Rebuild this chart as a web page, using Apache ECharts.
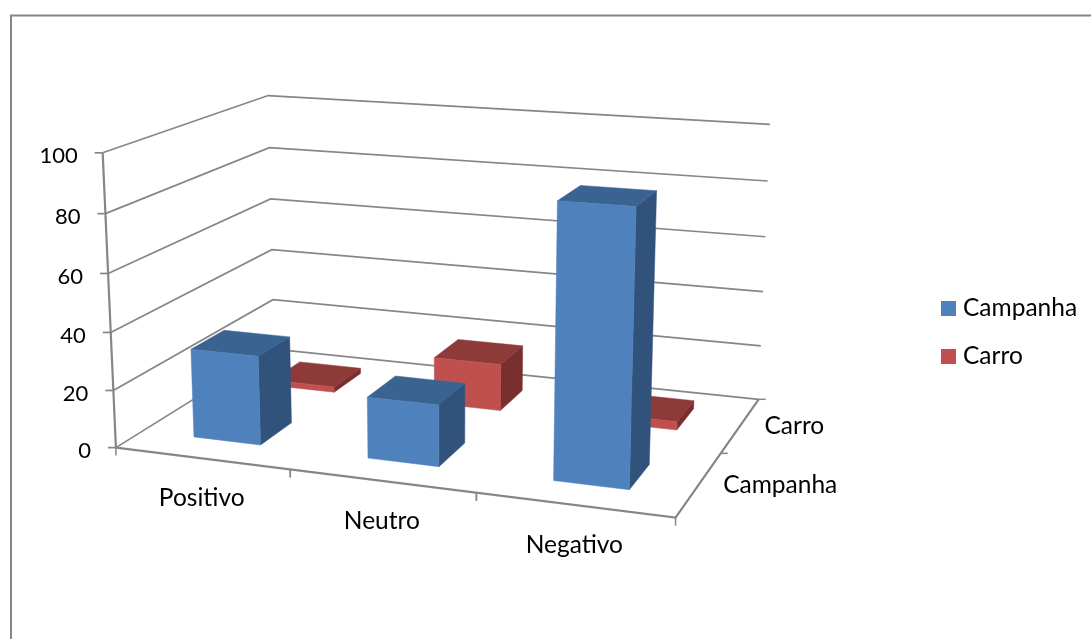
<!DOCTYPE html>
<html>
<head>
<meta charset="utf-8">
<style>html,body{margin:0;padding:0;background:#fff}#chart{width:1091px;height:639px}</style>
<script src="https://cdn.jsdelivr.net/npm/echarts@6/dist/echarts.min.js"></script>
</head>
<body>
<div id="chart"></div>
<script>
// Chart data
const categories = ['Positivo', 'Neutro', 'Negativo'];
const depthCategories = ['Campanha', 'Carro'];
const valueTicks = [0, 20, 40, 60, 80, 100];
const campanhaValues = [31, 21, 91];
const carroValues = [2, 17, 3];

// Styling
const FONT = '24.5px Lato, "Noto Sans", sans-serif';
const TICK_FONT = '22px Lato, "Noto Sans", sans-serif';
const LINE = '#868686';
const BAR_WIDTH = 0.13;  // share of the floor width
const BAR_DEPTH = 0.2;   // share of the floor depth
const FACES = {
  Campanha: { front: '#4F81BD', top: '#3B6391', side: '#30527B' },
  Carro: { front: '#C0504D', top: '#8E3A39', side: '#782F2E' }
};

// Camera calibration: [floor-x, floor-depth, height] against page position.
const VIEW_ANCHORS = [
  [0, 0, 0, 116.5, 447], [1, 0, 0, 675, 517], [0, 1, 0, 275, 350], [1, 1, 0, 758, 398],
  [0, 0, 1, 103, 153], [0, 1, 1, 268, 95], [1, 1, 1, 770, 125],
  [1 / 3, 0, 0, 290, 470], [2 / 3, 0, 0, 476, 495], [1, 0.5, 0, 722, 453],
  [0, 1, 0.2, 272, 300], [1, 1, 0.2, 761, 346], [0, 0, 0.2, 113, 389]
];

// Least-squares fit of the 3D-to-page projective matrix.
function fitProjection(anchors) {
  const n = 11;
  const A = Array.from({ length: n }, () => new Array(n + 1).fill(0));
  const addRow = (row, rhs) => {
    for (let r = 0; r < n; r++) {
      for (let c = 0; c < n; c++) A[r][c] += row[r] * row[c];
      A[r][n] += row[r] * rhs;
    }
  };
  anchors.forEach(([u, v, w, x, y]) => {
    addRow([u, v, w, 1, 0, 0, 0, 0, -x * u, -x * v, -x * w], x);
    addRow([0, 0, 0, 0, u, v, w, 1, -y * u, -y * v, -y * w], y);
  });
  for (let p = 0; p < n; p++) {
    let best = p;
    for (let r = p + 1; r < n; r++) if (Math.abs(A[r][p]) > Math.abs(A[best][p])) best = r;
    [A[p], A[best]] = [A[best], A[p]];
    for (let r = 0; r < n; r++) {
      if (r === p) continue;
      const f = A[r][p] / A[p][p];
      for (let c = p; c <= n; c++) A[r][c] -= f * A[p][c];
    }
  }
  return A.map((row, i) => row[n] / row[i]);
}
const M = fitProjection(VIEW_ANCHORS);
function project(u, v, w) {
  const d = M[8] * u + M[9] * v + M[10] * w + 1;
  return [
    (M[0] * u + M[1] * v + M[2] * w + M[3]) / d,
    (M[4] * u + M[5] * v + M[6] * w + M[7]) / d
  ];
}

// Turns a position on the hidden cartesian grid into floor-x and height shares.
function gridShare(api, params, category, value) {
  const cs = params.coordSys;
  const p = api.coord([category, value]);
  return { u: (p[0] - cs.x) / cs.width, w: (cs.y + cs.height - p[1]) / cs.height };
}
const line = (points, width) => ({
  type: 'polyline', silent: true,
  shape: { points },
  style: { stroke: LINE, lineWidth: width, fill: null }
});
const label = (text, x, y, align, font) => ({
  type: 'text', silent: true,
  style: { text, x, y, fill: '#000', font, textAlign: align, textVerticalAlign: 'middle' }
});

function renderValueLevel(params, api) {
  const tick = api.value(0);
  const { w } = gridShare(api, params, 0, tick);
  const a = project(0, 0, w), b = project(0, 1, w), c = project(1, 1, w);
  return {
    type: 'group',
    children: [
      line([a, b, c], 1.7),
      line([[a[0] - 8, a[1]], a], 1.7),
      label(String(tick), a[0] - 25, a[1] + 3, 'right', TICK_FONT)
    ]
  };
}

function renderFrame(params, api) {
  return {
    type: 'group',
    children: [
      line([project(0, 0, 0), project(0, 0, 1)], 2.2),
      line([project(0, 0, 0), project(1, 0, 0), project(1, 1, 0)], 2.2)
    ]
  };
}

function renderCategory(params, api) {
  const i = api.value(0);
  const { u } = gridShare(api, params, i, 0);
  const step = 1 / categories.length;
  const left = project(u - step / 2, 0, 0);
  const right = project(u + step / 2, 0, 0);
  const c = project(u, 0, 0);
  return {
    type: 'group',
    children: [
      line([left, [left[0], left[1] + 8]], 1.5),
      line([right, [right[0], right[1] + 8]], 1.5),
      label(categories[i], c[0], c[1] + 40, 'center', FONT)
    ]
  };
}

function renderDepth(params, api) {
  const i = api.value(0);
  const n = depthCategories.length;
  const c = project(1, (i + 0.5) / n, 0);
  const far = project(1, (i + 1) / n, 0);
  return {
    type: 'group',
    children: [
      line([far, [far[0] + 7, far[1]]], 1.5),
      label(depthCategories[i], c[0] + 24, c[1] + 1, 'left', FONT)
    ]
  };
}

function barRenderer(seriesName) {
  const row = depthCategories.indexOf(seriesName);
  const faces = FACES[seriesName];
  return function (params, api) {
    const i = api.value(0);
    const { u, w } = gridShare(api, params, i, api.value(1));
    const v = (row + 0.5) / depthCategories.length;
    const u0 = u - BAR_WIDTH / 2, u1 = u + BAR_WIDTH / 2;
    const v0 = v - BAR_DEPTH / 2, v1 = v + BAR_DEPTH / 2;
    const face = (points, fill) => ({
      type: 'polygon', silent: true,
      shape: { points },
      style: { fill, stroke: fill, lineWidth: 0.5 }
    });
    return {
      type: 'group',
      children: [
        face([project(u1, v0, 0), project(u1, v1, 0), project(u1, v1, w), project(u1, v0, w)], faces.side),
        face([project(u0, v0, w), project(u1, v0, w), project(u1, v1, w), project(u0, v1, w)], faces.top),
        face([project(u0, v0, 0), project(u1, v0, 0), project(u1, v0, w), project(u0, v0, w)], faces.front)
      ]
    };
  };
}

const customBase = { type: 'custom', clip: false, silent: true };
const chart = echarts.init(document.getElementById('chart'), null, { renderer: 'canvas' });
chart.setOption({
  animation: false,
  backgroundColor: '#fff',
  // The grid is only a scale source: every mark is projected from its positions.
  grid: { left: 100, right: 300, top: 100, bottom: 100 },
  xAxis: { type: 'category', data: categories, show: false },
  yAxis: { type: 'value', min: 0, max: 100, interval: 20, show: false },
  legend: {
    data: ['Campanha', 'Carro'],
    orient: 'vertical', left: 936, top: 291,
    itemWidth: 15, itemHeight: 15, itemGap: 23,
    icon: 'rect',
    textStyle: { fontFamily: 'Lato, "Noto Sans", sans-serif', fontSize: 24.5, color: '#000', padding: [0, 0, 0, 2] }
  },
  graphic: [
    { type: 'polyline', silent: true, shape: { points: [[11, 639], [11, 15.5], [1091, 15.5]] },
      style: { stroke: LINE, lineWidth: 2, fill: null } }
  ],
  series: [
    Object.assign({}, customBase, { name: 'Níveis', z: 1, renderItem: renderValueLevel, data: valueTicks.map(t => [t]) }),
    Object.assign({}, customBase, { name: 'Moldura', z: 2, renderItem: renderFrame, data: [[0]] }),
    Object.assign({}, customBase, { name: 'Categorias', z: 2, renderItem: renderCategory, data: categories.map((c, i) => [i]) }),
    Object.assign({}, customBase, { name: 'Profundidade', z: 2, renderItem: renderDepth, data: depthCategories.map((c, i) => [i]) }),
    Object.assign({}, customBase, {
      name: 'Carro', z: 3, renderItem: barRenderer('Carro'),
      itemStyle: { color: FACES.Carro.front },
      data: carroValues.map((val, i) => [i, val])
    }),
    Object.assign({}, customBase, {
      name: 'Campanha', z: 4, renderItem: barRenderer('Campanha'),
      itemStyle: { color: FACES.Campanha.front },
      data: campanhaValues.map((val, i) => [i, val])
    })
  ]
});
</script>
</body>
</html>
